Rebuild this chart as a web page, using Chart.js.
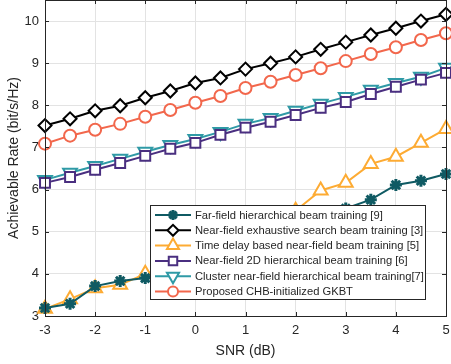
<!DOCTYPE html>
<html>
<head>
<meta charset="utf-8">
<script src="https://cdn.jsdelivr.net/npm/chart.js@4.4.0/dist/chart.umd.min.js"></script>
<style>
  html, body { margin: 0; padding: 0; background: #fff; }
  #wrap { width: 451px; height: 364px; }
</style>
</head>
<body>
<div id="wrap"><canvas id="rateChart" width="451" height="364"></canvas></div>
<script>
// SNR points (dB)
const snr = [-3, -2.5, -2, -1.5, -1, -0.5, 0, 0.5, 1, 1.5, 2, 2.5, 3, 3.5, 4, 4.5, 5];

// achievable rate per scheme (bit/s/Hz)
const farField   = [3.19, 3.29, 3.71, 3.83, 3.90, 4.05, 4.25, 4.45, 4.70, 4.95, 5.15, 5.35, 5.55, 5.76, 6.11, 6.21, 6.37];
const exhaustive = [7.52, 7.68, 7.87, 7.99, 8.18, 8.34, 8.53, 8.65, 8.86, 9.00, 9.15, 9.33, 9.50, 9.67, 9.83, 10.00, 10.16];
const timeDelay  = [3.17, 3.40, 3.66, 3.74, 4.00, 4.20, 4.45, 4.70, 4.95, 5.20, 5.50, 5.98, 6.16, 6.61, 6.78, 7.11, 7.44];
const nf2d       = [6.16, 6.30, 6.47, 6.63, 6.80, 6.97, 7.11, 7.30, 7.47, 7.61, 7.77, 7.94, 8.08, 8.27, 8.44, 8.61, 8.77];
const cluster    = [6.23, 6.40, 6.56, 6.73, 6.90, 7.06, 7.20, 7.37, 7.56, 7.70, 7.87, 8.04, 8.20, 8.37, 8.53, 8.68, 8.89];
const proposed   = [7.09, 7.28, 7.42, 7.56, 7.73, 7.89, 8.06, 8.22, 8.41, 8.56, 8.72, 8.88, 9.05, 9.22, 9.38, 9.55, 9.71];

const seriesNames = [
    "Far-field hierarchical beam training [9]",
    "Near-field exhaustive search beam training [3]",
    "Time delay based near-field beam training [5]",
    "Near-field 2D hierarchical beam training [6]",
    "Cluster near-field hierarchical beam training[7]",
    "Proposed CHB-initialized GKBT",
];

const xTicks = [-3, -2, -1, 0, 1, 2, 3, 4, 5];
const yTicks = [3, 4, 5, 6, 7, 8, 9, 10];

const axisColor = "#262626";
const fontFamily = "'Liberation Sans', Arial, Helvetica, sans-serif";

function makeSet(name, values, color, style, radius, rotation) {
    return {
        label: name,
        data: values.map((v, i) => ({ x: snr[i], y: v })),
        borderColor: color,
        backgroundColor: "#ffffff",
        pointBorderColor: color,
        pointBackgroundColor: style === "star" ? color : "#ffffff",
        borderWidth: 2,
        pointBorderWidth: style === "star" ? 3 : 2,
        pointStyle: style,
        pointRadius: radius,
        pointRotation: rotation || 0,
        pointHoverRadius: radius,
        tension: 0,
        clip: false,
    };
}

const datasets = [
    makeSet(seriesNames[0], farField, "#0f5a63", "star", 6),
    makeSet(seriesNames[1], exhaustive, "#000000", "rectRot", 6.5),
    makeSet(seriesNames[2], timeDelay, "#fdab33", "triangle", 8),
    makeSet(seriesNames[3], nf2d, "#4a2f80", "rect", 7),
    makeSet(seriesNames[4], cluster, "#2f9aa6", "triangle", 8, 180),
    makeSet(seriesNames[5], proposed, "#f2674c", "circle", 6),
];

// box around plot + small inward ticks, matlab style
const boxPlugin = {
    id: "boxPlugin",
    afterDatasetsDraw(chart) {
        const { ctx, chartArea: a, scales } = chart;
        ctx.save();
        ctx.strokeStyle = axisColor;
        ctx.lineWidth = 1;
        ctx.beginPath();
        xTicks.forEach((t) => {
            const px = Math.round(scales.x.getPixelForValue(t)) + 0.5;
            ctx.moveTo(px, a.bottom); ctx.lineTo(px, a.bottom - 4);
            ctx.moveTo(px, a.top); ctx.lineTo(px, a.top + 4);
        });
        yTicks.forEach((t) => {
            const py = Math.round(scales.y.getPixelForValue(t)) + 0.5;
            ctx.moveTo(a.left, py); ctx.lineTo(a.left + 4, py);
            ctx.moveTo(a.right, py); ctx.lineTo(a.right - 4, py);
        });
        ctx.stroke();
        ctx.strokeRect(Math.round(a.left) + 0.5, Math.round(a.top) + 0.5,
            Math.round(a.right - a.left), Math.round(a.bottom - a.top));
        ctx.restore();
    },
};

// legend drawn inside the axes
const insideLegend = {
    id: "insideLegend",
    afterDraw(chart) {
        const ctx = chart.ctx;
        const boxX = 150.5, boxY = 205.5, boxW = 275, boxH = 94;
        const rowH = 15.3, firstRow = 215;
        ctx.save();
        ctx.fillStyle = "#ffffff";
        ctx.fillRect(boxX, boxY, boxW, boxH);
        ctx.strokeStyle = axisColor;
        ctx.lineWidth = 1;
        ctx.strokeRect(boxX, boxY, boxW, boxH);
        ctx.font = "11.2px " + fontFamily;
        ctx.textBaseline = "middle";
        chart.data.datasets.forEach((ds, i) => {
            const y = firstRow + i * rowH;
            ctx.strokeStyle = ds.borderColor;
            ctx.lineWidth = 2;
            ctx.beginPath();
            ctx.moveTo(155, y);
            ctx.lineTo(191, y);
            ctx.stroke();
            ctx.fillStyle = ds.pointBackgroundColor;
            ctx.lineWidth = ds.pointBorderWidth;
            Chart.helpers.drawPoint(ctx, {
                pointStyle: ds.pointStyle,
                rotation: ds.pointRotation,
                radius: ds.pointRadius - 1,
                borderWidth: ds.pointBorderWidth,
            }, 173, y);
            ctx.fillStyle = axisColor;
            ctx.fillText(ds.label, 195, y + 0.5);
        });
        ctx.restore();
    },
};

new Chart(document.getElementById("rateChart"), {
    type: "line",
    data: { datasets: datasets },
    options: {
        responsive: false,
        animation: false,
        events: [],
        layout: { autoPadding: false, padding: { top: 0, right: 5, left: 0, bottom: 0 } },
        plugins: {
            legend: { display: false },
            tooltip: { enabled: false },
        },
        scales: {
            x: {
                type: "linear",
                min: -3,
                max: 5,
                afterBuildTicks: (scale) => { scale.ticks = xTicks.map((v) => ({ value: v })); },
                afterFit: (scale) => {
                    scale.height = 48;
                    scale.paddingLeft = 0;
                    scale.paddingRight = 0;
                },
                grid: { color: "#e3e3e3", tickLength: 0, drawTicks: false },
                border: { display: false },
                ticks: { color: axisColor, font: { family: fontFamily, size: 13 }, padding: 7, maxRotation: 0 },
                title: { display: true, text: "SNR (dB)", color: axisColor, font: { family: fontFamily, size: 14 }, padding: { top: 1 } },
            },
            y: {
                type: "linear",
                min: 3,
                max: 10.5,
                afterBuildTicks: (scale) => { scale.ticks = yTicks.map((v) => ({ value: v })); },
                afterFit: (scale) => {
                    scale.width = 45;
                    scale.paddingTop = 0;
                    scale.paddingBottom = 0;
                },
                grid: { color: "#e3e3e3", tickLength: 0, drawTicks: false },
                border: { display: false },
                ticks: { color: axisColor, font: { family: fontFamily, size: 13 }, padding: 6 },
                title: { display: true, text: "Achievable Rate (bit/s/Hz)", color: axisColor, font: { family: fontFamily, size: 14 }, padding: { top: 6, bottom: 4 } },
            },
        },
    },
    plugins: [boxPlugin, insideLegend],
});
</script>
</body>
</html>
